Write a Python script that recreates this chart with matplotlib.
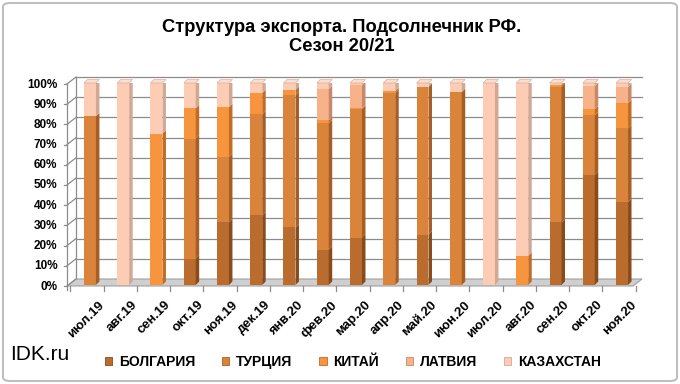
import matplotlib
matplotlib.use("Agg")
import matplotlib.pyplot as plt
from matplotlib import font_manager
from matplotlib.patches import Polygon, FancyBboxPatch, Patch
import matplotlib.transforms as mtransforms
import numpy as np

months = ['июл.19', 'авг.19', 'сен.19', 'окт.19', 'ноя.19', 'дек.19', 'янв.20', 'фев.20',
          'мар.20', 'апр.20', 'май.20', 'июн.20', 'июл.20', 'авг.20', 'сен.20', 'окт.20', 'ноя.20']
bulgaria   = [0, 0, 0, 13, 31, 34.5, 28.5, 17.5, 23.5, 0, 25, 0, 0, 0, 31, 54.5, 41]
turkey     = [83.5, 0, 0, 59.5, 32.5, 50, 65.5, 62.5, 63.5, 95, 73, 95.5, 0, 0, 67, 29.5, 36.5]
china      = [0, 0, 75, 15, 24.5, 10.5, 2.5, 1.5, 0.5, 1, 0, 0, 0, 14.5, 1, 3, 12.5]
latvia     = [0, 0, 0, 0, 0, 0, 0, 15.5, 11.5, 0, 0, 0, 0, 0, 0, 11.5, 8]
kazakhstan = [16.5, 100, 25, 12.5, 12, 5, 3.5, 3, 1, 4, 2, 4.5, 100, 85.5, 1, 1.5, 2]
series_names = ['БОЛГАРИЯ', 'ТУРЦИЯ', 'КИТАЙ', 'ЛАТВИЯ', 'КАЗАХСТАН']
yticks = [0, 10, 20, 30, 40, 50, 60, 70, 80, 90, 100]

front_colors = ['#B96C2E', '#D9843A', '#F7953F', '#F7B28A', '#FCCDB4']
side_colors  = ['#8A4B1B', '#A65E24', '#C36C24', '#C8886A', '#D2A893']
top_colors   = ['#D08A50', '#E8A060', '#FAB070', '#FAC8A8', '#FDDDCB']

def pick(fams):
    for f in fams:
        try:
            font_manager.findfont(f, fallback_to_default=False)
            return f
        except Exception:
            pass
    return 'DejaVu Sans'

narrow = pick(['Liberation Sans Narrow', 'Liberation Sans'])
arial = pick(['Liberation Sans', 'DejaVu Sans'])

W, H, DPI = 680, 384, 100
fig = plt.figure(figsize=(W / DPI, H / DPI), dpi=DPI)

# border
fig.patches.append(FancyBboxPatch((3 / W, 3 / H), 1 - 6 / W, 1 - 6 / H,
                                  boxstyle='round,pad=0,rounding_size=0.01',
                                  transform=fig.transFigure, fill=False,
                                  edgecolor='#BFBFBF', linewidth=1.5))

# axes geometry (bar front plane)
ax_left_px, ax_right_px = 70, 636
ax_bottom_px, ax_top_px = 285, 83
ax = fig.add_axes([ax_left_px / W, (H - ax_bottom_px) / H,
                   (ax_right_px - ax_left_px) / W, (ax_bottom_px - ax_top_px) / H])
ax.patch.set_alpha(0)
n = len(months)
x = np.arange(n)
xl, xr = -0.6, 16.42
ax.set_xlim(xl, xr)
ax.set_ylim(0, 100)
px_x = (xr - xl) / (ax_right_px - ax_left_px)   # data units per px (x)
px_y = 100 / (ax_bottom_px - ax_top_px)           # data units per px (y)

# offsets for 3D walls (in px)
Fx, Fy = -3, -1     # front edge
Bx, By = 6, 6       # back wall
grid_c = '#8C8C8C'

# floor
floor = Polygon([(xl + Fx * px_x, Fy * px_y), (xr + Fx * px_x, Fy * px_y),
                 (xr + Bx * px_x, By * px_y), (xl + Bx * px_x, By * px_y)],
                closed=True, facecolor='#CFCFCF', edgecolor='#A0A0A0', lw=0.8,
                clip_on=False, zorder=1)
ax.add_patch(floor)
# left wall front line
ax.plot([xl + Fx * px_x, xl + Fx * px_x], [Fy * px_y - 4 * px_y, 100 + Fy * px_y], color=grid_c,
        lw=0.9, clip_on=False, zorder=1)
# gridlines on back wall with slanted ticks on the left wall
for v in yticks:
    if v > 0:
        ax.plot([xl + Bx * px_x, xr + Bx * px_x], [v + By * px_y, v + By * px_y],
                color=grid_c, lw=0.9, clip_on=False, zorder=0.5)
    ax.plot([xl + Fx * px_x, xl + Bx * px_x], [v + Fy * px_y, v + By * px_y],
            color=grid_c, lw=0.9, clip_on=False, zorder=1)
    ax.plot([xl + Fx * px_x - 3 * px_x, xl + Fx * px_x], [v + Fy * px_y, v + Fy * px_y],
            color=grid_c, lw=0.9, clip_on=False, zorder=1)
# back wall left edge
ax.plot([xl + Bx * px_x, xl + Bx * px_x], [By * px_y, 100 + By * px_y], color=grid_c,
        lw=0.9, clip_on=False, zorder=0.5)

# x tick marks on floor front edge
for b in np.arange(n + 1) - 0.5:
    xb = b + Fx * px_x
    ax.plot([xb, xb], [Fy * px_y, Fy * px_y - 5 * px_y], color=grid_c, lw=0.9,
            clip_on=False, zorder=1)

# bars
data = [bulgaria, turkey, china, latvia, kazakhstan]
w = 0.36
dx, dy = 3.5 * px_x, 3.5 * px_y
bottoms = np.zeros(n)
totals = np.sum(np.array(data), axis=0)
for si, vals in enumerate(data):
    vals = np.array(vals, dtype=float)
    ax.bar(x, vals, w, bottom=bottoms, color=front_colors[si], linewidth=0,
           zorder=3, label=series_names[si])
    for i in range(n):
        if vals[i] <= 0:
            continue
        x1 = x[i] + w / 2
        y0, y1 = bottoms[i], bottoms[i] + vals[i]
        ax.add_patch(Polygon([(x1, y0), (x1 + dx, y0 + dy), (x1 + dx, y1 + dy), (x1, y1)],
                             closed=True, facecolor=side_colors[si], lw=0, zorder=3))
        if abs(y1 - totals[i]) < 1e-6:
            x0 = x[i] - w / 2
            ax.add_patch(Polygon([(x0, y1), (x1, y1), (x1 + dx, y1 + dy), (x0 + dx, y1 + dy)],
                                 closed=True, facecolor=top_colors[si],
                                 edgecolor='#C8A898', lw=0.4, zorder=3, clip_on=False))
    bottoms = bottoms + vals

for s in ax.spines.values():
    s.set_visible(False)
ax.set_yticks(yticks)
ax.set_yticklabels([f'{v}%' for v in yticks], fontsize=8.5, fontweight='bold', family=arial)
ax.tick_params(axis='y', length=0, pad=9)
ax.set_xticks(x)
ax.set_xticklabels(months, rotation=45, ha='right', va='top', rotation_mode='anchor',
                   fontsize=9.5, fontweight='bold', family=arial)
ax.tick_params(axis='x', length=0, pad=10)
off = mtransforms.ScaledTranslation(8 / DPI, 0, fig.dpi_scale_trans)
for lab in ax.get_xticklabels():
    lab.set_transform(lab.get_transform() + off)

fig.text(0.503, 0.903, 'Структура экспорта. Подсолнечник РФ.\nСезон 20/21', ha='center',
         va='center', fontsize=13.2, fontweight='bold', family=narrow, linespacing=1.15)
fig.text(0.015, 0.077, 'IDK.ru', ha='left', va='center', fontsize=15, family=arial)

handles = [Patch(facecolor=front_colors[i], edgecolor=side_colors[i], lw=0.6) for i in range(5)]
fig.legend(handles, series_names, loc='center', bbox_to_anchor=(0.519, 0.057), ncol=5,
           frameon=False, handlelength=0.55, handleheight=0.55, handletextpad=0.5,
           columnspacing=1.9, prop={'family': narrow, 'weight': 'bold', 'size': 10})

fig.savefig('out.png', dpi=DPI)
